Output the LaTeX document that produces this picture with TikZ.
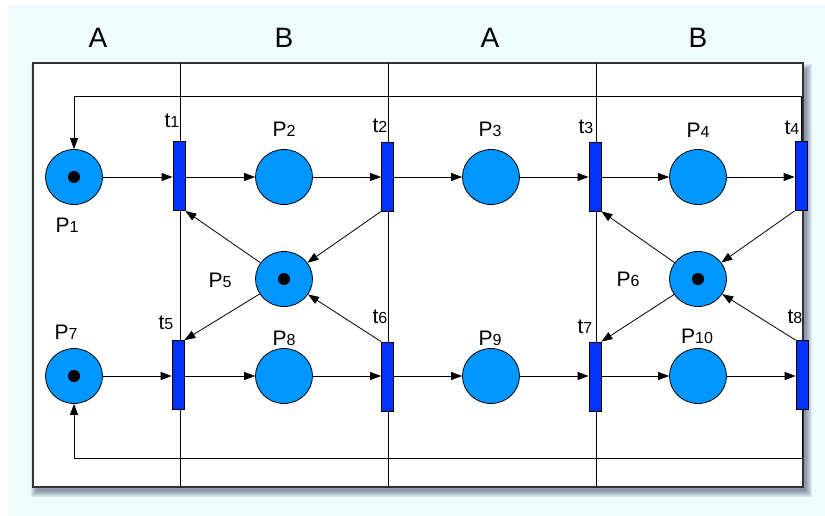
\documentclass[tikz,border=0pt]{standalone}
\usepackage{fontspec}
\setmainfont{Liberation Sans}
\usetikzlibrary{arrows.meta,shapes.geometric}
\definecolor{placeblue}{RGB}{0,150,255}
\definecolor{transblue}{RGB}{0,51,255}
\definecolor{bgcyan}{RGB}{238,252,255}
\definecolor{shadowc}{RGB}{40,50,90}
\tikzset{
  place/.style={ellipse, draw=black, fill=placeblue, minimum width=57pt, minimum height=55pt, inner sep=0pt, line width=0.8pt},
  trans/.style={rectangle, draw=black, fill=transblue, minimum width=12pt, minimum height=69pt, inner sep=0pt, line width=0.8pt},
  token/.style={circle, fill=black, minimum size=12pt, inner sep=0pt},
  arc/.style={-{Triangle[length=11pt,width=8pt]}, line width=0.8pt},
  lbl/.style={font=\fontsize{21}{21}\selectfont, inner sep=0pt},
  hdr/.style={font=\fontsize{28}{28}\selectfont, inner sep=0pt}
}
\newcommand{\idx}[2]{#1{\fontsize{16}{16}\selectfont #2}}
\begin{document}
\begin{tikzpicture}[x=1pt,y=-1pt]
  \useasboundingbox (0,0) rectangle (825,516);
  \fill[bgcyan] (8,5) rectangle (825,516);
  % panel and columns
  \foreach \s in {0,...,6}
    \fill[shadowc, opacity=0.09] (37-\s,70-\s) rectangle (806+\s,491+\s);
  \draw[fill=white, line width=1.4pt, draw=black!80] (33,63) rectangle (803,487);
  \foreach \x in {180,388,596}
    \draw[line width=0.8pt] (\x,63) -- (\x,487);
  \node[hdr] (hA1) at (98,38) {A};
  \node[hdr] (hB1) at (284,38) {B};
  \node[hdr] (hA2) at (490,38) {A};
  \node[hdr] (hB2) at (698,38) {B};
  % places
  \node[place] (P1) at (74,177) {};
  \node[place] (P2) at (284,177) {};
  \node[place] (P3) at (491,177) {};
  \node[place] (P4) at (698,177) {};
  \node[place] (P5) at (284,279) {};
  \node[place] (P6) at (698,279) {};
  \node[place] (P7) at (74,376) {};
  \node[place] (P8) at (284,376) {};
  \node[place] (P9) at (491,376) {};
  \node[place] (P10) at (698,376) {};
  \foreach \p in {P1,P5,P6,P7}
    \node[token] at (\p) {};
  % transitions
  \node[trans] (t1) at (179,176) {};
  \node[trans] (t2) at (387.5,176.5) {};
  \node[trans] (t3) at (595,176.5) {};
  \node[trans] (t4) at (801,176) {};
  \node[trans] (t5) at (178,375) {};
  \node[trans] (t6) at (387.5,376.5) {};
  \node[trans] (t7) at (595,376.5) {};
  \node[trans] (t8) at (802,375) {};
  % labels
  \node[lbl] (lP1) at (67,225) {\idx{P}{1}};
  \node[lbl] (lP2) at (284,129) {\idx{P}{2}};
  \node[lbl] (lP3) at (490,129) {\idx{P}{3}};
  \node[lbl] (lP4) at (698,130) {\idx{P}{4}};
  \node[lbl] (lP5) at (220,280) {\idx{P}{5}};
  \node[lbl] (lP6) at (628,279) {\idx{P}{6}};
  \node[lbl] (lP7) at (66,332) {\idx{P}{7}};
  \node[lbl] (lP8) at (284,338) {\idx{P}{8}};
  \node[lbl] (lP9) at (490,338) {\idx{P}{9}};
  \node[lbl] (lP10) at (697,336) {\idx{P}{10}};
  \node[lbl] (lt1) at (172,121) {\idx{t}{1}};
  \node[lbl] (lt2) at (380,126) {\idx{t}{2}};
  \node[lbl] (lt3) at (586,127) {\idx{t}{3}};
  \node[lbl] (lt4) at (792,128) {\idx{t}{4}};
  \node[lbl] (lt5) at (166,323) {\idx{t}{5}};
  \node[lbl] (lt6) at (380,317) {\idx{t}{6}};
  \node[lbl] (lt7) at (585,327) {\idx{t}{7}};
  \node[lbl] (lt8) at (795,317) {\idx{t}{8}};
  % upper row
  \draw[arc] (P1.east) -- (P1.east -| t1.west);
  \draw[arc] (t1.east |- P2) -- (P2.west);
  \draw[arc] (P2.east) -- (P2.east -| t2.west);
  \draw[arc] (t2.east |- P3) -- (P3.west);
  \draw[arc] (P3.east) -- (P3.east -| t3.west);
  \draw[arc] (t3.east |- P4) -- (P4.west);
  \draw[arc] (P4.east) -- (P4.east -| t4.west);
  % lower row
  \draw[arc] (P7.east) -- (P7.east -| t5.west);
  \draw[arc] (t5.east |- P8) -- (P8.west);
  \draw[arc] (P8.east) -- (P8.east -| t6.west);
  \draw[arc] (t6.east |- P9) -- (P9.west);
  \draw[arc] (P9.east) -- (P9.east -| t7.west);
  \draw[arc] (t7.east |- P10) -- (P10.west);
  \draw[arc] (P10.east) -- (P10.east -| t8.west);
  % shared places
  \draw[arc] (P5) -- (t1.south east);
  \draw[arc] (t2.south west) -- (P5);
  \draw[arc] (P5) -- (t5.north east);
  \draw[arc] (t6.north west) -- (P5);
  \draw[arc] (P6) -- (t3.south east);
  \draw[arc] (t4.south west) -- (P6);
  \draw[arc] (P6) -- (t7.north east);
  \draw[arc] (t8.north west) -- (P6);
  % feedback
  \coordinate (fbtop) at (0,96);
  \coordinate (fbbot) at (0,458);
  \draw[arc] (t4.north) -- (t4.north |- fbtop) -- (P1 |- fbtop) -- (P1.north);
  \draw[arc] (t8.south) -- (t8.south |- fbbot) -- (P7 |- fbbot) -- (P7.south);
\end{tikzpicture}
\end{document}
